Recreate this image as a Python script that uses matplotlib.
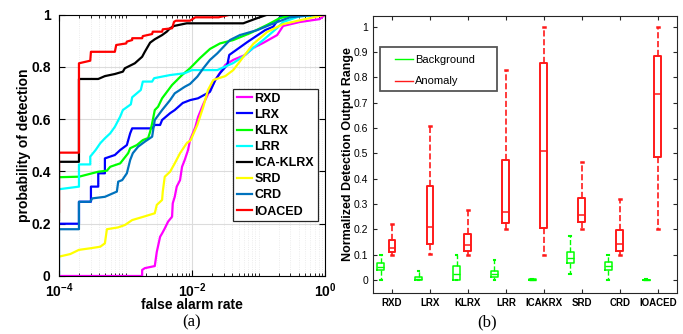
import numpy as np
import matplotlib
matplotlib.use('Agg')
import matplotlib.pyplot as plt
from matplotlib import ticker
from matplotlib.lines import Line2D
from matplotlib.patches import Rectangle

plt.rcParams['font.family'] = ['Liberation Sans', 'DejaVu Sans']
plt.rcParams['mathtext.fontset'] = 'custom'
plt.rcParams['mathtext.rm'] = 'Liberation Sans'
plt.rcParams['mathtext.bf'] = 'Liberation Sans:bold'

# ---------------- (a) ROC curves ----------------
# log10(false alarm rate), probability of detection
rxd_logfar = [-4.00, -2.75, -2.75, -2.71, -2.56, -2.53, -2.48, -2.45, -2.41, -2.36, -2.30, -2.29,
              -2.26, -2.23, -2.18, -2.15, -2.11, -2.06, -2.03, -1.95, -1.91, -1.83, -1.73, -1.65,
              -1.50, -1.38, -1.20, -1.08, -0.93, -0.72, -0.63, -0.38, -0.08, 0.00]
rxd_pd = [0.0, 0.0, 0.023, 0.030, 0.038, 0.092, 0.150, 0.163, 0.182, 0.208, 0.227, 0.278,
          0.303, 0.342, 0.367, 0.418, 0.444, 0.482, 0.520, 0.570, 0.608, 0.658, 0.712, 0.750,
          0.808, 0.827, 0.846, 0.873, 0.892, 0.922, 0.957, 0.972, 0.983, 1.0]

lrx_logfar = [-4.00, -3.70, -3.70, -3.52, -3.52, -3.41, -3.41, -3.31, -3.31, -3.23, -3.16, -3.08,
              -2.98, -2.93, -2.90, -2.60, -2.56, -2.48, -2.45, -2.33, -2.26, -2.14, -2.03, -1.91,
              -1.73, -1.65, -1.58, -1.47, -1.44, -1.17, -0.90, -0.78, -0.68, -0.48, 0.00]
lrx_pd = [0.200, 0.200, 0.284, 0.284, 0.342, 0.342, 0.393, 0.393, 0.450, 0.457, 0.463, 0.482,
          0.501, 0.546, 0.565, 0.565, 0.578, 0.578, 0.597, 0.623, 0.635, 0.662, 0.673, 0.680,
          0.705, 0.750, 0.776, 0.808, 0.846, 0.895, 0.941, 0.954, 0.990, 1.0, 1.0]

klrx_logfar = [-4.00, -3.70, -3.41, -3.28, -3.23, -3.08, -3.04, -2.96, -2.93, -2.83, -2.74, -2.66,
               -2.63, -2.60, -2.56, -2.51, -2.45, -2.30, -2.15, -2.03, -1.88, -1.73, -1.58, -1.38,
               -1.13, -0.87, -0.68, -0.45, 0.00]
klrx_pd = [0.378, 0.380, 0.399, 0.403, 0.418, 0.431, 0.444, 0.470, 0.489, 0.501, 0.520, 0.528,
           0.552, 0.584, 0.635, 0.648, 0.680, 0.731, 0.769, 0.795, 0.834, 0.869, 0.890, 0.903,
           0.929, 0.961, 0.987, 1.0, 1.0]

lrr_logfar = [-4.00, -3.70, -3.70, -3.53, -3.53, -3.45, -3.38, -3.31, -3.23, -3.16, -3.08, -3.04,
              -2.92, -2.90, -2.77, -2.74, -2.60, -2.57, -2.33, -2.11, -2.00, -1.62, -1.38, -1.23,
              -1.08, -0.93, -0.72, -0.63, -0.38, 0.00]
lrr_pd = [0.332, 0.342, 0.427, 0.427, 0.457, 0.482, 0.508, 0.527, 0.546, 0.571, 0.610, 0.635,
          0.657, 0.684, 0.712, 0.744, 0.744, 0.757, 0.769, 0.776, 0.788, 0.788, 0.815, 0.840,
          0.873, 0.903, 0.949, 0.972, 0.994, 1.0]

icaklrx_logfar = [-4.00, -4.00, -3.70, -3.70, -3.41, -3.31, -3.16, -3.04, -3.01, -2.86, -2.75, -2.71,
                  -2.63, -2.56, -2.45, -2.38, -2.33, -2.27, -2.08, -1.23, -1.05, -0.87, 0.00]
icaklrx_pd = [0.214, 0.437, 0.437, 0.754, 0.754, 0.765, 0.773, 0.782, 0.795, 0.814, 0.839, 0.858,
              0.893, 0.906, 0.922, 0.935, 0.948, 0.957, 0.967, 0.967, 0.984, 1.0, 1.0]

srd_logfar = [-4.00, -3.83, -3.70, -3.53, -3.38, -3.31, -3.28, -3.11, -3.01, -2.90, -2.74, -2.56,
              -2.53, -2.45, -2.44, -2.41, -2.33, -2.26, -2.18, -2.08, -2.02, -1.92, -1.83, -1.76,
              -1.68, -1.50, -1.38, -1.23, -1.08, -0.87, -0.63, -0.23, 0.00]
srd_pd = [0.074, 0.084, 0.100, 0.106, 0.112, 0.125, 0.179, 0.186, 0.195, 0.214, 0.226, 0.240,
          0.272, 0.291, 0.323, 0.380, 0.399, 0.431, 0.470, 0.508, 0.520, 0.578, 0.648, 0.712,
          0.750, 0.765, 0.788, 0.838, 0.888, 0.934, 0.964, 0.987, 1.0]

crd_logfar = [-4.00, -4.00, -3.70, -3.70, -3.53, -3.50, -3.31, -3.13, -3.11, -3.05, -2.98, -2.93,
              -2.89, -2.81, -2.71, -2.60, -2.56, -2.45, -2.33, -2.26, -2.11, -2.03, -1.92, -1.83,
              -1.73, -1.62, -1.43, -1.28, -1.02, -0.80, -0.53, -0.12, 0.00]
crd_pd = [0.0, 0.179, 0.179, 0.284, 0.284, 0.297, 0.303, 0.323, 0.361, 0.367, 0.393, 0.444,
          0.470, 0.495, 0.514, 0.533, 0.597, 0.635, 0.673, 0.699, 0.724, 0.735, 0.763, 0.795,
          0.827, 0.852, 0.903, 0.922, 0.941, 0.964, 0.990, 1.0, 1.0]

ioaced_logfar = [-4.00, -4.00, -3.70, -3.70, -3.53, -3.52, -3.16, -3.14, -2.99, -2.98, -2.90, -2.90,
                 -2.75, -2.74, -2.60, -2.59, -2.45, -2.44, -2.30, -2.27, -2.24, -2.03, -1.95, -1.60,
                 -1.43, 0.00]
ioaced_pd = [0.246, 0.472, 0.472, 0.814, 0.824, 0.858, 0.858, 0.884, 0.890, 0.897, 0.903, 0.910,
             0.910, 0.918, 0.926, 0.935, 0.935, 0.944, 0.948, 0.973, 0.977, 0.977, 0.990, 0.990,
             1.0, 1.0]

roc_names = ['RXD', 'LRX', 'KLRX', 'LRR', 'ICA-KLRX', 'SRD', 'CRD', 'IOACED']
roc_colors = ['#ff00ff', '#0000ff', '#00ff00', '#00ffff', '#000000', '#ffff00', '#0072bd', '#ff0000']
roc_data = [(rxd_logfar, rxd_pd), (lrx_logfar, lrx_pd), (klrx_logfar, klrx_pd), (lrr_logfar, lrr_pd),
            (icaklrx_logfar, icaklrx_pd), (srd_logfar, srd_pd), (crd_logfar, crd_pd),
            (ioaced_logfar, ioaced_pd)]

# ---------------- (b) box plot statistics ----------------
methods = ['RXD', 'LRX', 'KLRX', 'LRR', 'ICAKRX', 'SRD', 'CRD', 'IOACED']
# background: lower whisker, q1, median, q3, upper whisker
bg_low = [0.0, 0.0, 0.0, 0.0, 0.0, 0.024, 0.0, 0.0]
bg_q1 = [0.037, 0.0, 0.0, 0.011, 0.0, 0.068, 0.037, 0.0]
bg_med = [0.052, 0.004, 0.023, 0.022, 0.001, 0.087, 0.053, 0.0005]
bg_q3 = [0.066, 0.013, 0.055, 0.036, 0.002, 0.110, 0.072, 0.001]
bg_high = [0.097, 0.034, 0.097, 0.077, 0.004, 0.173, 0.099, 0.002]
# anomaly
an_low = [0.100, 0.104, 0.100, 0.200, 0.100, 0.200, 0.100, 0.200]
an_q1 = [0.110, 0.143, 0.114, 0.223, 0.206, 0.228, 0.115, 0.486]
an_med = [0.126, 0.208, 0.138, 0.267, 0.508, 0.258, 0.140, 0.733]
an_q3 = [0.156, 0.370, 0.180, 0.474, 0.857, 0.322, 0.198, 0.886]
an_high = [0.222, 0.608, 0.277, 0.829, 1.000, 0.465, 0.321, 1.000]


def make_stats(low, q1, med, q3, high):
    return [dict(whislo=a, q1=b, med=c, q3=d, whishi=e, fliers=[])
            for a, b, c, d, e in zip(low, q1, med, q3, high)]


fig = plt.figure(figsize=(6.83, 3.34), dpi=100)

# ---------- left panel ----------
ax1 = fig.add_axes([0.0864, 0.1737, 0.3895, 0.7823])
for (lf, pd), name, col in zip(roc_data, roc_names, roc_colors):
    ax1.plot(10.0 ** np.array(lf), pd, color=col, lw=1.6, label=name)
ax1.set_xscale('log')
ax1.set_xlim(1e-4, 1)
ax1.set_ylim(0, 1)
ax1.set_xticks([1e-4, 1e-2, 1])
ax1.set_xticklabels([r'$\mathbf{10^{-4}}$', r'$\mathbf{10^{-2}}$', r'$\mathbf{10^{0}}$'])
ax1.xaxis.set_minor_locator(ticker.LogLocator(base=10, subs=np.arange(1, 10), numticks=20))
ax1.xaxis.set_minor_formatter(ticker.NullFormatter())
ax1.set_yticks([0, 0.2, 0.4, 0.6, 0.8, 1])
ax1.set_yticklabels(['0', '0.2', '0.4', '0.6', '0.8', '1'], fontweight='bold')
ax1.tick_params(which='both', direction='in', top=True, right=True, labelsize=10)
ax1.tick_params(axis='y', pad=6)
ax1.tick_params(axis='x', pad=4)
ax1.tick_params(which='major', length=4)
ax1.tick_params(which='minor', length=2)
ax1.grid(True, which='major', color='#dcdcdc', lw=0.8)
ax1.grid(True, which='minor', axis='x', color='#e6e6e6', lw=0.6, ls=':')
ax1.set_axisbelow(True)
ax1.set_xlabel('false alarm rate', fontsize=10, fontweight='bold', labelpad=-1.5)
ax1.set_ylabel('probability of detection', fontsize=10, fontweight='bold', labelpad=0)
leg1 = ax1.legend(loc='upper left', bbox_to_anchor=(0.654, 0.716),
                  prop={'weight': 'bold', 'size': 9}, handlelength=1.25, handletextpad=0.15,
                  borderpad=0.3, labelspacing=0.33, borderaxespad=0, fancybox=False, framealpha=1)
leg1.get_frame().set_edgecolor('#262626')
leg1.get_frame().set_linewidth(0.9)

# ---------- right panel ----------
ax2 = fig.add_axes([0.5461, 0.1228, 0.4447, 0.8293])
pos = np.arange(1, len(methods) + 1)
ax2.bxp(make_stats(bg_low, bg_q1, bg_med, bg_q3, bg_high), positions=pos - 0.3, widths=0.18,
        showfliers=False, capwidths=0.05,
        boxprops=dict(color='#00ff00', lw=1.1), medianprops=dict(color='#00ff00', lw=1.0),
        whiskerprops=dict(color='#00ff00', lw=1.0, ls='--'), capprops=dict(color='#00ff00', lw=1.5))
ax2.bxp(make_stats(an_low, an_q1, an_med, an_q3, an_high), positions=pos, widths=0.18,
        showfliers=False, capwidths=0.05,
        boxprops=dict(color='#ff1a1a', lw=1.4), medianprops=dict(color='#ff1a1a', lw=1.1),
        whiskerprops=dict(color='#ff1a1a', lw=1.2, ls='--'), capprops=dict(color='#ff1a1a', lw=1.8))
ax2.set_xlim(0.5, 8.5)
ax2.set_ylim(-0.052, 1.043)
ax2.set_xticks(pos)
ax2.set_xticklabels(methods, fontweight='bold', fontsize=7)
ax2.set_yticks(np.round(np.arange(0, 1.01, 0.1), 1))
ax2.set_yticklabels(['0', '0.1', '0.2', '0.3', '0.4', '0.5', '0.6', '0.7', '0.8', '0.9', '1'])
ax2.tick_params(direction='in', top=True, right=True, length=3, labelsize=7.5, color='#262626')
ax2.tick_params(axis='x', labelsize=7)
for sp in ax2.spines.values():
    sp.set_color('#262626')
ax2.set_ylabel('Normalized Detection Output Range', fontsize=9, fontweight='bold')
ax2.yaxis.set_label_coords(-0.062, 0.5)
handles = [Line2D([], [], color='#00ff00', lw=1.0), Line2D([], [], color='#ff1a1a', lw=1.0)]
leg2 = ax2.legend(handles, ['Background', 'Anomaly'], loc='upper left',
                  bbox_to_anchor=(0.072, 0.858), fontsize=8, handlelength=1.6,
                  borderpad=0, labelspacing=1.0, handletextpad=0.2, borderaxespad=0,
                  frameon=False)
ax2.add_patch(Rectangle((0.023, 0.729), 0.386, 0.159, transform=ax2.transAxes, fill=False,
                        edgecolor='#555555', lw=1.3, zorder=5))

fig.text(0.281, 0.036, '(a)', family='Liberation Serif', fontsize=12, ha='center', va='center')
fig.text(0.7126, 0.036, '(b)', family='Liberation Serif', fontsize=12, ha='center', va='center')

fig.savefig('out.png', dpi=100)
